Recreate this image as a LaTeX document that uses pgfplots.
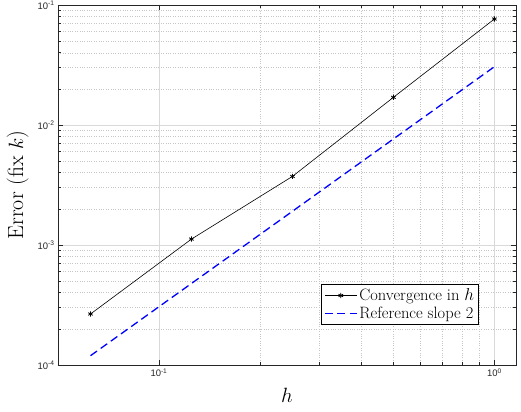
\documentclass[border=0pt]{standalone}
\usepackage{fontspec}
\usepackage{pgfplots}
\pgfplotsset{compat=1.18}
\usetikzlibrary{calc}
\newfontfamily\ticksf{Liberation Sans}
\definecolor{axgray}{gray}{0.15}
\definecolor{refblue}{rgb}{0,0,1}

\begin{document}
\begin{tikzpicture}
\begin{axis}[
  name=ax,
  scale only axis,
  width=458bp,height=360bp,
  xmode=log,ymode=log,
  xmin=0.05,xmax=1.16,ymin=1e-4,ymax=1e-1,
  xtick={0.1,1},xticklabels={10\textsuperscript{-1},10\textsuperscript{0}},
  ytick={1e-4,1e-3,1e-2,1e-1},
  yticklabels={10\textsuperscript{-4},10\textsuperscript{-3},10\textsuperscript{-2},10\textsuperscript{-1}},
  tick label style={font=\ticksf\fontsize{9.5}{11}\selectfont,text=axgray},
  axis line style={axgray,line width=0.8bp},
  every tick/.style={axgray,line width=0.6bp},
  tick align=inside,
  major tick length=5bp,minor tick length=3bp,
  grid=both,
  major grid style={gray!30,line width=0.5bp},
  minor grid style={gray!45,dotted,line width=0.5bp},
  xlabel={$h$},ylabel={Error (fix $k$)},
  xlabel style={font=\fontsize{22}{26}\selectfont,yshift=-4bp},
  ylabel style={font=\fontsize{22}{26}\selectfont,yshift=2bp},
  legend style={at={(0.919,0.111)},anchor=south east,
    font=\fontsize{16.5}{19}\selectfont,draw=black,line width=0.6bp,
    inner sep=2.5bp,row sep=1bp},
  legend cell align=left,
  legend image code/.code={\draw[mark repeat=2,mark phase=2,#1]
    plot coordinates {(0bp,0bp) (16bp,0bp) (32bp,0bp)};},
]
\addplot[black,line width=0.6bp,mark=asterisk,mark size=2.6bp,mark options={line width=0.8bp}]
  coordinates {(0.0625,0.000266) (0.125,0.00112) (0.25,0.00373) (0.5,0.0170) (1,0.0764)};
\addlegendentry{Convergence in $h$}
\addplot[refblue,line width=1.3bp,dash pattern=on 8bp off 4.5bp]
  coordinates {(0.0625,0.0001195) (0.125,0.000478) (0.25,0.00191) (0.5,0.00765) (1,0.0306)};
\addlegendentry{Reference slope 2}
\end{axis}
\pgfresetboundingbox
\path[use as bounding box] ($(ax.south west)+(-58bp,-47bp)$) rectangle ($(ax.north east)+(5bp,5bp)$);
\end{tikzpicture}
\end{document}
